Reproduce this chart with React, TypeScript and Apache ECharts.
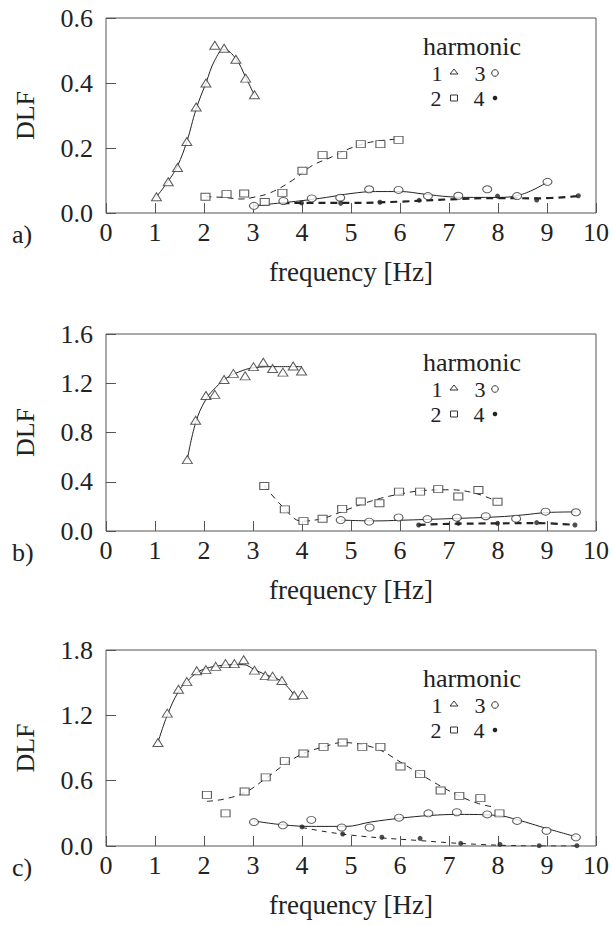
import React, { useEffect, useRef } from "react";
import * as echarts from "echarts";

// ---- Panel a) ----
const a1 = [[1.03,0.05],[1.27,0.096],[1.46,0.14],[1.65,0.22],[1.84,0.326],[2.04,0.40],[2.22,0.516],[2.41,0.507],[2.65,0.473],[2.85,0.415],[3.03,0.364]];
const a1Fit = [[1.03,0.05],[1.27,0.098],[1.46,0.145],[1.65,0.22],[1.84,0.32],[2.04,0.40],[2.22,0.47],[2.41,0.503],[2.65,0.475],[2.85,0.418],[3.03,0.362]];
const a2 = [[2.03,0.05],[2.46,0.058],[2.82,0.06],[3.24,0.034],[3.6,0.062],[4.01,0.13],[4.42,0.178],[4.82,0.178],[5.2,0.212],[5.6,0.212],[5.97,0.225]];
const a2Fit = [[2.03,0.05],[2.4,0.048],[2.75,0.043],[3.0,0.048],[3.35,0.062],[3.8,0.1],[4.2,0.145],[4.6,0.172],[5.0,0.2],[5.4,0.218],[5.97,0.228]];
const a3 = [[3.02,0.022],[3.62,0.037],[4.2,0.045],[4.78,0.047],[5.37,0.073],[5.97,0.071],[6.57,0.052],[7.19,0.053],[7.78,0.073],[8.39,0.052],[9.01,0.096]];
const a3Fit = [[3.02,0.022],[3.5,0.03],[4.0,0.038],[4.5,0.048],[5.0,0.06],[5.5,0.066],[6.0,0.066],[6.5,0.058],[7.0,0.05],[7.5,0.048],[8.0,0.048],[8.5,0.058],[9.01,0.095]];
const a4 = [[3.99,0.031],[4.79,0.03],[5.59,0.033],[6.39,0.039],[7.99,0.052],[8.79,0.04],[9.64,0.053]];
const a4Fit = [[3.6,0.03],[4.0,0.031],[5.0,0.031],[6.0,0.035],[7.0,0.042],[8.0,0.046],[8.8,0.045],[9.64,0.052]];

// ---- Panel b) ----
const b1 = [[1.66,0.58],[1.83,0.90],[2.04,1.10],[2.22,1.11],[2.41,1.23],[2.60,1.28],[2.84,1.26],[3.01,1.335],[3.21,1.37],[3.40,1.32],[3.61,1.29],[3.82,1.34],[3.99,1.30]];
const b1Fit = [[1.66,0.58],[1.83,0.88],[2.04,1.07],[2.25,1.17],[2.45,1.24],[2.7,1.29],[3.0,1.325],[3.5,1.335],[4.0,1.335]];
const b2 = [[3.23,0.366],[3.65,0.176],[4.03,0.08],[4.42,0.10],[4.82,0.18],[5.2,0.24],[5.58,0.225],[5.98,0.32],[6.41,0.32],[6.78,0.34],[7.19,0.28],[7.6,0.333],[7.99,0.238]];
const b2Fit = [[3.23,0.37],[3.6,0.2],[4.0,0.08],[4.4,0.1],[4.8,0.155],[5.2,0.215],[5.6,0.265],[6.0,0.3],[6.5,0.33],[7.0,0.335],[7.5,0.31],[7.99,0.24]];
const b3 = [[4.79,0.089],[5.37,0.076],[5.97,0.11],[6.56,0.097],[7.16,0.108],[7.75,0.12],[8.37,0.10],[8.97,0.157],[9.59,0.152]];
const b3Fit = [[4.79,0.089],[5.5,0.082],[6.0,0.087],[7.0,0.1],[8.0,0.115],[8.5,0.13],[9.0,0.15],[9.59,0.155]];
const b4 = [[6.38,0.049],[7.19,0.062],[7.99,0.062],[8.79,0.068],[9.57,0.049]];
const b4Fit = [[6.38,0.05],[7.0,0.058],[8.0,0.062],[8.79,0.064],[9.57,0.05]];

// ---- Panel c) ----
const c1 = [[1.06,0.95],[1.25,1.22],[1.48,1.44],[1.65,1.51],[1.85,1.61],[2.04,1.62],[2.24,1.65],[2.44,1.675],[2.62,1.675],[2.81,1.71],[3.03,1.615],[3.25,1.565],[3.40,1.56],[3.59,1.52],[3.84,1.385],[4.01,1.39]];
const c1Fit = [[1.06,0.95],[1.25,1.2],[1.48,1.42],[1.65,1.51],[1.85,1.59],[2.04,1.63],[2.3,1.655],[2.6,1.665],[2.81,1.665],[3.03,1.62],[3.25,1.575],[3.59,1.51],[3.84,1.385]];
const c2 = [[2.06,0.47],[2.44,0.3],[2.83,0.5],[3.26,0.63],[3.65,0.78],[4.03,0.85],[4.44,0.91],[4.83,0.95],[5.23,0.91],[5.6,0.91],[6.01,0.73],[6.41,0.66],[6.83,0.51],[7.21,0.46],[7.64,0.44],[8.03,0.3]];
const c2Fit = [[2.06,0.41],[2.4,0.43],[2.83,0.49],[3.26,0.62],[3.65,0.75],[4.03,0.85],[4.44,0.91],[4.83,0.95],[5.23,0.93],[5.6,0.88],[6.01,0.77],[6.41,0.66],[6.83,0.55],[7.21,0.46],[7.6,0.39],[7.95,0.355]];
const c3 = [[3.02,0.22],[3.61,0.19],[4.19,0.24],[4.81,0.17],[5.38,0.17],[5.98,0.26],[6.58,0.3],[7.16,0.31],[7.78,0.29],[8.39,0.23],[8.99,0.14],[9.59,0.08]];
const c3Fit = [[3.02,0.23],[3.6,0.195],[4.2,0.18],[4.9,0.18],[5.4,0.22],[6.0,0.255],[6.6,0.28],[7.2,0.29],[8.0,0.28],[8.4,0.24],[9.0,0.16],[9.59,0.085]];
const c4 = [[4.0,0.175],[4.83,0.11],[5.63,0.08],[6.41,0.07],[7.24,0.024],[8.04,0.015],[8.84,0.003],[9.61,0.003]];
const c4Fit = [[4.0,0.17],[4.5,0.13],[5.0,0.1],[5.6,0.075],[6.4,0.05],[7.0,0.03],[7.6,0.015],[8.2,0.005],[8.8,0.0],[9.61,0.0]];

const panelLabels = ["a)", "b)", "c)"];
const yMax = [0.6, 1.6, 1.8];
const yStep = [0.2, 0.4, 0.6];
const legendTitle = "harmonic";
const legendNums = ["1", "3", "2", "4"];
const xName = "frequency [Hz]";
const yName = "DLF";

const FONT = "Liberation Serif";
const INK = "#222";

const layout = [
  { top: 18, height: 195 },
  { top: 334, height: 197 },
  { top: 650, height: 196 },
];
const LEFT = 106;
const WIDTH = 490;

const scatterSyms = [
  { symbol: "triangle", size: [10, 8], fill: "#fff" },
  { symbol: "rect", size: [9, 7], fill: "#fff" },
  { symbol: "circle", size: [9, 7], fill: "#fff" },
  { symbol: "circle", size: [5, 5], fill: INK },
];

export default function App() {
  const ref = useRef<HTMLDivElement>(null);
  useEffect(() => {
    if (!ref.current) return;
    const chart = echarts.init(ref.current, undefined, { renderer: "svg" });
    const data = [
      { pts: [a1, a2, a3, a4], fits: [a1Fit, a2Fit, a3Fit, a4Fit] },
      { pts: [b1, b2, b3, b4], fits: [b1Fit, b2Fit, b3Fit, b4Fit] },
      { pts: [c1, c2, c3, c4], fits: [c1Fit, c2Fit, c3Fit, c4Fit] },
    ];
    const grid: any[] = [];
    const xAxis: any[] = [];
    const yAxis: any[] = [];
    const series: any[] = [];
    const graphic: any[] = [];

    layout.forEach((L, i) => {
      grid.push({
        left: LEFT, top: L.top, width: WIDTH, height: L.height,
        show: true, borderColor: "#555", borderWidth: 1, backgroundColor: "transparent",
      });
      xAxis.push({
        type: "value", gridIndex: i, min: 0, max: 10, interval: 1,
        name: xName, nameLocation: "middle", nameGap: 45,
        nameTextStyle: { fontFamily: FONT, fontSize: 27, color: INK },
        axisLine: { show: false },
        axisTick: { show: true, inside: true, length: 10, lineStyle: { color: "#555" } },
        axisLabel: { fontFamily: FONT, fontSize: 26, color: INK, margin: 6 },
        splitLine: { show: false },
      });
      yAxis.push({
        type: "value", gridIndex: i, min: 0, max: yMax[i], interval: yStep[i],
        name: yName, nameLocation: "middle", nameGap: 68,
        nameTextStyle: { fontFamily: FONT, fontSize: 26, color: INK },
        axisLine: { show: false },
        axisTick: { show: true, inside: true, length: 10, lineStyle: { color: "#555" } },
        axisLabel: { fontFamily: FONT, fontSize: 26, color: INK, margin: 13, formatter: (v: number) => v.toFixed(1) },
        splitLine: { show: false },
      });
      const d = data[i];
      const lineStyles = [
        { type: "solid", width: 1 },
        { type: [6, 5], width: 1 },
        { type: "solid", width: 1 },
        i < 2 ? { type: [7, 5], width: 2.2 } : { type: [5, 5], width: 1 },
      ];
      d.fits.forEach((f, k) => {
        series.push({
          type: "line", xAxisIndex: i, yAxisIndex: i, data: f, smooth: 0.4,
          showSymbol: false, silent: true, z: 2,
          lineStyle: { color: INK, ...lineStyles[k] },
        });
      });
      d.pts.forEach((p, k) => {
        const s = scatterSyms[k];
        series.push({
          type: "scatter", xAxisIndex: i, yAxisIndex: i, data: p, z: 3,
          symbol: s.symbol, symbolSize: s.size,
          itemStyle: { color: s.fill, borderColor: "#333", borderWidth: k === 3 ? 0 : 1 },
        });
      });

      // panel label
      graphic.push({
        type: "text", left: 12, top: L.top + L.height + 8,
        style: { text: panelLabels[i], fontFamily: FONT, fontSize: 26, fill: INK },
      });
      // legend
      const gy = L.top + 28;
      const r1 = L.top + 55;
      const r2 = L.top + 80;
      const txt = (t: string, x: number, y: number, size: number) => ({
        type: "text", x, y,
        style: {
          text: t, fontFamily: FONT, fontSize: size, fill: INK,
          align: "center", verticalAlign: "middle", textAlign: "center", textVerticalAlign: "middle",
        },
      });
      graphic.push(txt(legendTitle, 472, gy, 26));
      graphic.push(txt(legendNums[0], 437, r1, 22));
      graphic.push(txt(legendNums[1], 480, r1, 22));
      graphic.push(txt(legendNums[2], 436, r2, 22));
      graphic.push(txt(legendNums[3], 479, r2, 22));
      graphic.push({ type: "polygon", shape: { points: [[454, r1 - 4], [458, r1 + 1], [450, r1 + 1]] }, style: { fill: "#fff", stroke: "#333", lineWidth: 1 } });
      graphic.push({ type: "circle", shape: { cx: 495, cy: r1, r: 3.3 }, style: { fill: "#fff", stroke: "#333", lineWidth: 1 } });
      graphic.push({ type: "rect", shape: { x: 450.5, y: r2 - 3, width: 7, height: 6 }, style: { fill: "#fff", stroke: "#333", lineWidth: 1 } });
      graphic.push({ type: "circle", shape: { cx: 495, cy: r2, r: 2.3 }, style: { fill: INK } });
    });

    chart.setOption({
      animation: false,
      backgroundColor: "#fff",
      textStyle: { fontFamily: FONT },
      grid, xAxis, yAxis, series, graphic,
    });
    return () => chart.dispose();
  }, []);
  return (
    <div
      ref={ref}
      style={{ position: "absolute", left: 0, top: 0, width: 613, height: 926 }}
    />
  );
}
